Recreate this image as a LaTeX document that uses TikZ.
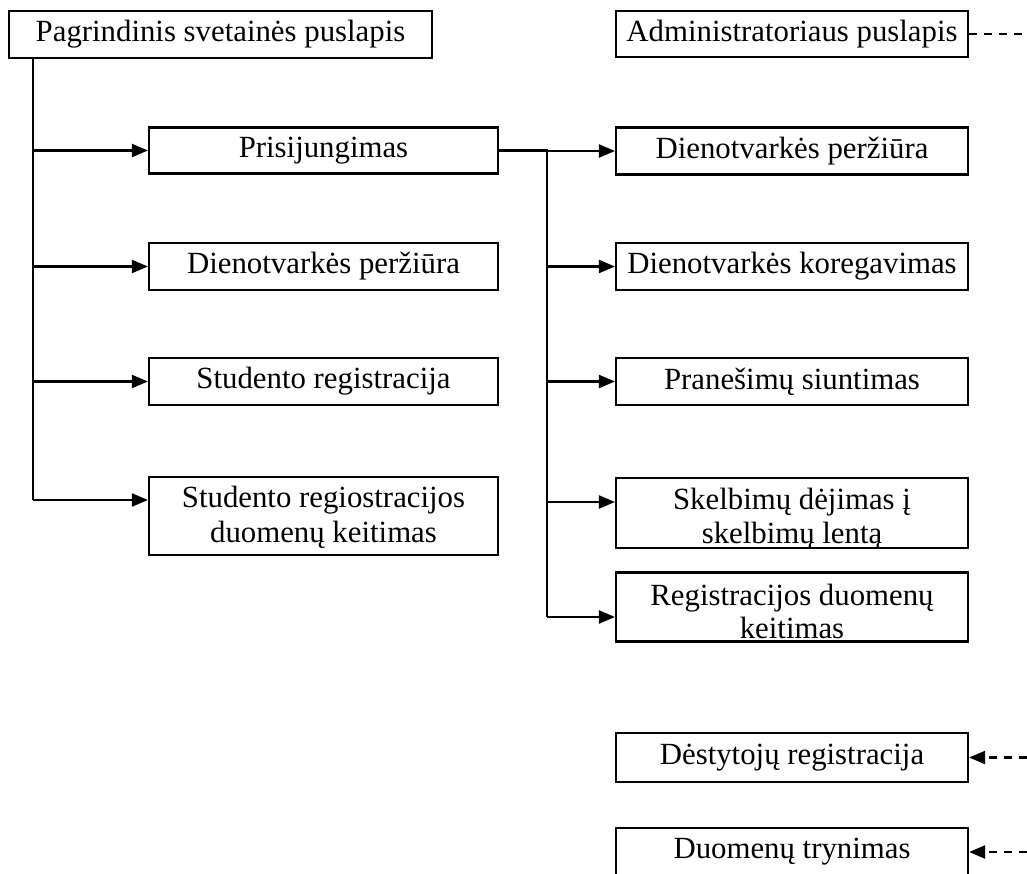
\documentclass[tikz,border=0pt]{standalone}
\usepackage{fontspec}
\setmainfont{Liberation Serif}
\usetikzlibrary{arrows.meta}
\begin{document}
\begin{tikzpicture}[x=1pt,y=-1pt,
  every node/.style={font=\fontsize{30.8}{35}\selectfont},
  box/.style={draw, line width=2.2pt, rectangle, inner sep=0pt},
  leftbox/.style={box, minimum width=349pt},
  rightbox/.style={box, minimum width=352pt},
  wire/.style={line width=2.2pt},
  arr/.style={line width=2.2pt, -{Triangle[length=16pt,width=13pt]}},
  dashwire/.style={line width=2.2pt, dash pattern=on 8pt off 7pt},
  dasharr/.style={dashwire, -{Triangle[length=16pt,width=13pt]}},
  txt/.style={inner sep=0pt, anchor=base}]

% page frame
\clip (0,0) rectangle (1027,873);
\coordinate (edge) at (1027,0);

% top level pages
\node[box, minimum width=423pt, minimum height=47pt] (main) at (220.5,34.5) {Pagrindinis svetainės puslapis};
\node[box, minimum width=352pt, minimum height=46pt] (admin) at (792,34) {Administratoriaus puslapis};

% public part
\node[leftbox, minimum height=46pt] (login) at (323.5,150.5) {Prisijungimas};
\node[leftbox, minimum height=47pt] (dleft) at (323.5,266.5) {Dienotvarkės peržiūra};
\node[leftbox, minimum height=47pt] (sreg) at (323.5,381.5) {Studento registracija};
\node[leftbox, minimum height=78pt] (smod) at (323.5,516) {};
\node[txt] (smod1) at ([yshift=9pt]smod.center) {Studento regiostracijos};
\node[txt] (smod2) at ([yshift=-26pt]smod.center) {duomenų keitimas};

% after login
\node[rightbox, minimum height=47pt] (dview) at (792,151) {Dienotvarkės peržiūra};
\node[rightbox, minimum height=47pt] (dedit) at (792,266.5) {Dienotvarkės koregavimas};
\node[rightbox, minimum height=47pt] (msg) at (792,381.5) {Pranešimų siuntimas};
\node[rightbox, minimum height=70pt] (ads) at (792,513) {};
\node[txt] (ads1) at ([yshift=4pt]ads.center) {Skelbimų dėjimas į};
\node[txt] (ads2) at ([yshift=-30pt]ads.center) {skelbimų lentą};
\node[rightbox, minimum height=69pt] (rmod) at (792,607) {};
\node[txt] (rmod1) at ([yshift=2pt]rmod.center) {Registracijos duomenų};
\node[txt] (rmod2) at ([yshift=-31pt]rmod.center) {keitimas};

% administrator functions
\node[rightbox, minimum height=49pt] (lect) at (792,757.5) {Dėstytojų registracija};
\node[rightbox, minimum height=48pt] (del) at (792,852) {Duomenų trynimas};

% entry points of the arrows on the taller boxes
\coordinate (smodIn) at ([yshift=16pt]smod.west);
\coordinate (adsIn) at ([yshift=11pt]ads.west);
\coordinate (rmodIn) at ([yshift=-10pt]rmod.west);

% left trunk
\coordinate (lt) at (33,58);
\draw[wire] (main.south -| lt) -- (lt |- smodIn);
\draw[arr] (lt |- login.west) -- (login.west);
\draw[arr] (lt |- dleft.west) -- (dleft.west);
\draw[arr] (lt |- sreg.west) -- (sreg.west);
\draw[arr] (lt |- smodIn) -- (smodIn);

% right trunk
\coordinate (rt) at (547,150.5);
\draw[wire] (login.east) -- (rt) -- (rt |- rmodIn);
\draw[arr] (rt |- dview.west) -- (dview.west);
\draw[arr] (rt |- dedit.west) -- (dedit.west);
\draw[arr] (rt |- msg.west) -- (msg.west);
\draw[arr] (rt |- adsIn) -- (adsIn);
\draw[arr] (rt |- rmodIn) -- (rmodIn);

% dashed links from the administrator page
\draw[dashwire] (admin.east) -- (admin.east -| edge);
\draw[dasharr] (lect.east -| edge) -- (lect.east);
\draw[dasharr] (del.east -| edge) -- (del.east);
\end{tikzpicture}
\end{document}
